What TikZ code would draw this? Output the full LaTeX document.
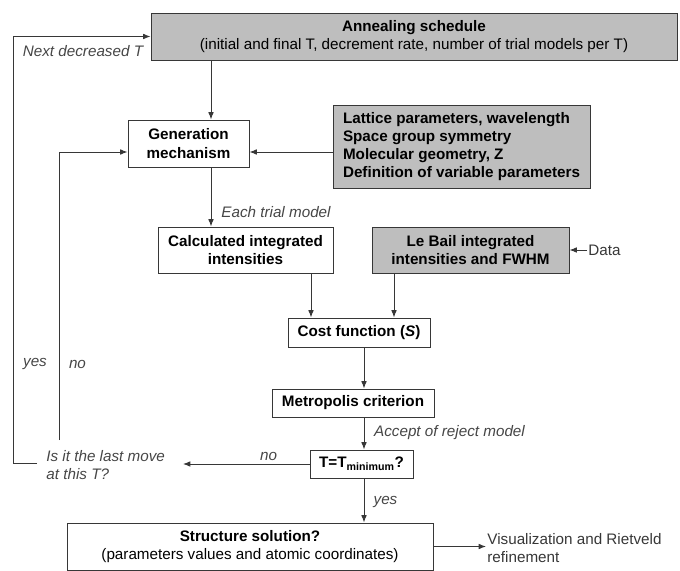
\documentclass[tikz,border=0pt]{standalone}
\usepackage{fontspec}
\setmainfont{Liberation Sans}
\usepackage{xcolor}
\usepackage{tikz}
\usetikzlibrary{arrows.meta, positioning}

\definecolor{boxgrey}{RGB}{190,190,190}
\definecolor{linegrey}{RGB}{55,55,55}
\definecolor{notegrey}{RGB}{70,70,70}
\newcommand{\txt}{\fontsize{13}{15.6}\selectfont}

\begin{document}
\begin{tikzpicture}[
    x=0.03cm, y=-0.03cm,
    box/.style={rectangle, draw=linegrey, line width=0.8pt, fill=white, align=center, inner sep=2pt, font=\txt\bfseries},
    greybox/.style={box, fill=boxgrey},
    arrow/.style={-{Latex[length=2.2mm, width=1.7mm]}, draw=linegrey, line width=0.8pt},
    note/.style={font=\txt\itshape, text=notegrey, inner sep=1pt},
    plain/.style={font=\txt, text=linegrey, inner sep=1pt, align=left}
]
\useasboundingbox (0,0) rectangle (680,571);

% Annealing schedule
\node[greybox, minimum width=15.78cm, minimum height=1.41cm] (sched) at (414,36.5)
    {Annealing schedule\\\mdseries(initial and final T, decrement rate, number of trial models per T)};

% Generation of trial models
\node[box, minimum width=3.63cm, minimum height=1.41cm] (gen) at (188.5,143.5) {Generation\\mechanism};
\node[greybox, align=left, minimum width=7.71cm, minimum height=2.49cm] (inputs) at (461.5,146.5)
    {Lattice parameters, wavelength\\Space group symmetry\\Molecular geometry, Z\\Definition of variable parameters};

% Intensities
\node[box, minimum width=5.25cm, minimum height=1.38cm] (calc) at (245.5,250) {Calculated integrated\\intensities};
\node[greybox, minimum width=5.91cm, minimum height=1.38cm] (lebail) at (470.5,250) {Le Bail integrated\\intensities and FWHM};
\node[plain, anchor=west] (data) at (587,250) {Data};

% Cost and acceptance
\node[box, minimum width=4.26cm, minimum height=0.87cm] (cost) at (359,332.5) {Cost function (\textit{S})};
\node[box, minimum width=4.86cm, minimum height=0.84cm] (metro) at (353,403) {Metropolis criterion};
\node[box, minimum width=3.09cm, minimum height=0.84cm] (tmin) at (361.5,464) {T=T\textsubscript{minimum}?};

% Solution
\node[box, minimum width=10.98cm, minimum height=1.41cm] (sol) at (250,546.5)
    {Structure solution?\\\mdseries(parameters values and atomic coordinates)};
\node[plain, anchor=west] (viz) at (486,548) {Visualization and Rietveld\\refinement};

% Labels
\node[note] (nextT) at (83,51) {Next decreased T};
\node[note] (each) at (276,212) {Each trial model};
\node[note] (accept) at (449.5,433) {Accept of reject model};
\node[note] (tno) at (268.5,456) {no};
\node[note] (tyes) at (385.5,502) {yes};
\node[note] (lyes) at (35,364) {yes};
\node[note] (lno) at (77.5,364) {no};
\node[note, align=left, anchor=west] (ask) at (45,465) {Is it the last move\\at this T?};

% Helper coordinates
\coordinate (colgen) at (211,0);
\coordinate (colcalc) at (311,0);
\coordinate (colbail) at (394,0);
\coordinate (colmain) at (364,0);
\coordinate (rowgen) at (0,152);
\coordinate (askend) at (183,464);
\coordinate (loopout) at (37,463);
\coordinate (outer) at (13,463);
\coordinate (inner) at (59,440);

% Arrows
\draw[arrow] (sched.south -| colgen) -- (gen.north -| colgen);
\draw[arrow] (inputs.west |- rowgen) -- (gen.east |- rowgen);
\draw[arrow] (gen.south -| colgen) -- (calc.north -| colgen);
\draw[arrow] (data.west) -- (lebail.east);
\draw[arrow] (calc.south -| colcalc) -- (cost.north -| colcalc);
\draw[arrow] (lebail.south -| colbail) -- (cost.north -| colbail);
\draw[arrow] (cost.south -| colmain) -- (metro.north -| colmain);
\draw[arrow] (metro.south -| colmain) -- (tmin.north -| colmain);
\draw[arrow] (tmin.south -| colmain) -- (sol.north -| colmain);
\draw[arrow] (tmin.west) -- (askend);
\draw[arrow] (sol.east) -- (viz.west |- sol.east);

% Loops back
\draw[arrow] (loopout) -- (outer) |- (sched.west);
\draw[arrow] (inner) |- (gen.west |- rowgen);

\end{tikzpicture}
\end{document}
